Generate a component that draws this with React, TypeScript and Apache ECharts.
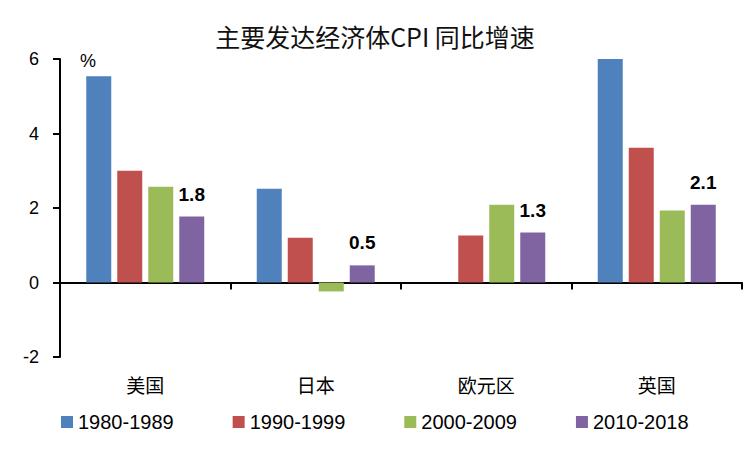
import React, { useEffect, useRef } from "react";
import * as echarts from "echarts";

const categories = ["美国", "日本", "欧元区", "英国"];
const seriesNames = ["1980-1989", "1990-1999", "2000-2009", "2010-2018"];
const s1980 = [5.54, 2.52, null, 6.0];
const s1990 = [3.0, 1.2, 1.26, 3.62];
const s2000 = [2.57, -0.24, 2.09, 1.93];
const s2010 = [1.77, 0.46, 1.34, 2.09];
const colors = ["#4F81BD", "#C0504D", "#9BBB59", "#8064A2"];
const yTicks = [-2, 0, 2, 4, 6];

export default function App() {
  const ref = useRef<HTMLDivElement>(null);
  useEffect(() => {
    if (!ref.current) return;
    const chart = echarts.init(ref.current, null, { renderer: "svg" });
    const data = [s1980, s1990, s2000, s2010];
    const font = "Liberation Sans, Arial, sans-serif";
    const cjk = "Noto Sans CJK SC, sans-serif";
    chart.setOption({
      animation: false,
      color: colors,
      textStyle: { fontFamily: font },
      title: {
        text: "主要发达经济体CPI 同比增速",
        left: "center",
        top: 18,
        textStyle: { fontSize: 25, fontWeight: "normal", color: "#111", fontFamily: cjk },
      },
      legend: {
        data: seriesNames,
        left: 56,
        top: 407,
        itemWidth: 12,
        itemHeight: 12,
        itemGap: 59,
        itemTextGap: 5,
        icon: "rect",
        textStyle: { fontSize: 20, color: "#000", fontFamily: font },
      },
      graphic: [
        { type: "text", left: 80, top: 52, style: { text: "%", fontSize: 18, fill: "#000", fontFamily: font } },
      ],
      grid: { left: 60, right: 8, top: 59, bottom: 93, containLabel: false },
      xAxis: [
        {
          type: "category",
          data: categories,
          axisLine: { onZero: true, lineStyle: { color: "#000", width: 2 } },
          axisTick: { show: true, length: 7, lineStyle: { color: "#000", width: 2 } },
          axisLabel: { show: false },
        },
        {
          type: "category",
          data: categories,
          position: "bottom",
          axisLine: { show: false, onZero: false },
          axisTick: { show: false },
          axisLabel: { show: true, margin: 18, fontSize: 19, color: "#000", fontFamily: cjk },
        },
      ],
      yAxis: {
        type: "value",
        min: -2,
        max: 6,
        interval: 2,
        axisLine: { show: true, lineStyle: { color: "#000", width: 2 } },
        axisTick: { show: true, length: 7, lineStyle: { color: "#000", width: 2 } },
        axisLabel: { margin: 21, fontSize: 18, color: "#000", fontFamily: font, customValues: yTicks },
        splitLine: { show: false },
      },
      series: seriesNames.map((name, i) => ({
        name,
        type: "bar",
        xAxisIndex: 0,
        data: data[i],
        barWidth: 25,
        barGap: "24%",
        itemStyle: { color: colors[i] },
        label:
          i === 3
            ? {
                show: true,
                position: "top",
                distance: 13,
                fontSize: 19,
                fontWeight: "bold",
                color: "#000",
                fontFamily: font,
                formatter: (p: any) => Number(p.value).toFixed(1),
              }
            : { show: false },
      })),
    });
    return () => chart.dispose();
  }, []);
  return <div ref={ref} style={{ width: 750, height: 450, position: "absolute", left: 0, top: 0 }} />;
}
